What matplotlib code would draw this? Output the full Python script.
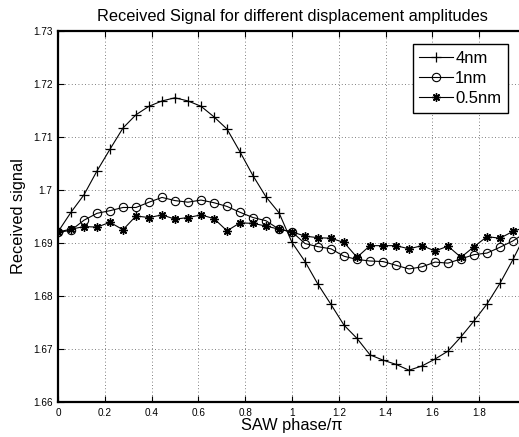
import numpy as np
import matplotlib
matplotlib.use("Agg")
import matplotlib.pyplot as plt
from matplotlib.ticker import FuncFormatter

# phase samples, k/18 for k = 0..36 (last one falls just outside the view)
phase = np.arange(37) / 18.0

sig_4nm = [1.6921, 1.6958, 1.6991, 1.7036, 1.7077, 1.7117, 1.7142, 1.7158, 1.7168,
           1.7174, 1.7168, 1.7158, 1.7138, 1.7115, 1.7072, 1.7027, 1.6987, 1.6957,
           1.6901, 1.6865, 1.6822, 1.6784, 1.6745, 1.6720, 1.6689, 1.6679, 1.6671,
           1.6660, 1.6668, 1.6681, 1.6696, 1.6723, 1.6753, 1.6785, 1.6824, 1.6869,
           1.6918]
sig_1nm = [1.6920, 1.6924, 1.6943, 1.6956, 1.6961, 1.6967, 1.6967, 1.6977, 1.6986,
           1.6980, 1.6977, 1.6981, 1.6976, 1.6969, 1.6958, 1.6948, 1.6942, 1.6926,
           1.6921, 1.6899, 1.6893, 1.6889, 1.6875, 1.6869, 1.6866, 1.6865, 1.6858,
           1.6851, 1.6855, 1.6864, 1.6862, 1.6870, 1.6878, 1.6881, 1.6892, 1.6904,
           1.6920]
sig_05nm = [1.6921, 1.6926, 1.6931, 1.6930, 1.6939, 1.6925, 1.6951, 1.6948, 1.6953,
            1.6945, 1.6948, 1.6953, 1.6946, 1.6923, 1.6938, 1.6937, 1.6932, 1.6926,
            1.6921, 1.6913, 1.6910, 1.6909, 1.6901, 1.6873, 1.6895, 1.6895, 1.6895,
            1.6889, 1.6895, 1.6885, 1.6894, 1.6873, 1.6893, 1.6912, 1.6909, 1.6922,
            1.6930]

x_ticks = np.arange(0, 2.0, 0.2)
y_ticks = np.arange(1.66, 1.7301, 0.01)

plt.rcParams['font.family'] = ['Liberation Sans', 'DejaVu Sans']

fig = plt.figure(figsize=(5.19, 4.37), dpi=100)
# axes runs slightly past the right edge of the figure, like the original crop
ax = fig.add_axes([58 / 519, 35 / 437, 468 / 519, 371 / 437])

asterisk = (8, 2, 0)
ax.plot(phase, sig_4nm, color='k', lw=0.8, marker='+', ms=7, mew=0.9, label='4nm')
ax.plot(phase, sig_1nm, color='k', lw=0.8, marker='o', ms=6, mew=0.8,
        mfc='none', label='1nm')
ax.plot(phase, sig_05nm, color='k', lw=0.8, marker=asterisk, ms=6, mew=1.0,
        label='0.5nm')

ax.set_xlim(0, 2)
ax.set_ylim(1.66, 1.73)
ax.set_xticks(x_ticks)
ax.set_yticks(y_ticks)
ax.xaxis.set_major_formatter(FuncFormatter(lambda v, p: '%g' % round(v, 2)))
ax.yaxis.set_major_formatter(FuncFormatter(lambda v, p: '%g' % round(v, 2)))
ax.tick_params(direction='in', top=True, right=True, length=4, width=0.8,
               labelsize=7.2, pad=4)
for s in ax.spines.values():
    s.set_linewidth(1.6)

ax.grid(True, linestyle=(0, (1, 3)), color='#555555', linewidth=0.6)

ax.set_title('Received Signal for different displacement amplitudes', fontsize=11.8, pad=7)
ax.set_xlabel('SAW phase/\u03c0', fontsize=11.8, labelpad=0)
ax.set_ylabel('Received signal', fontsize=11.8, labelpad=5)

leg = ax.legend(loc='upper right', bbox_to_anchor=(450 / 468, 0.965), fontsize=12,
                fancybox=False, framealpha=1, edgecolor='k', handlelength=2.0,
                handletextpad=0.15, borderpad=0.4, labelspacing=0.32, borderaxespad=0)
leg.get_frame().set_linewidth(1.0)

fig.savefig('out.png', dpi=100)
